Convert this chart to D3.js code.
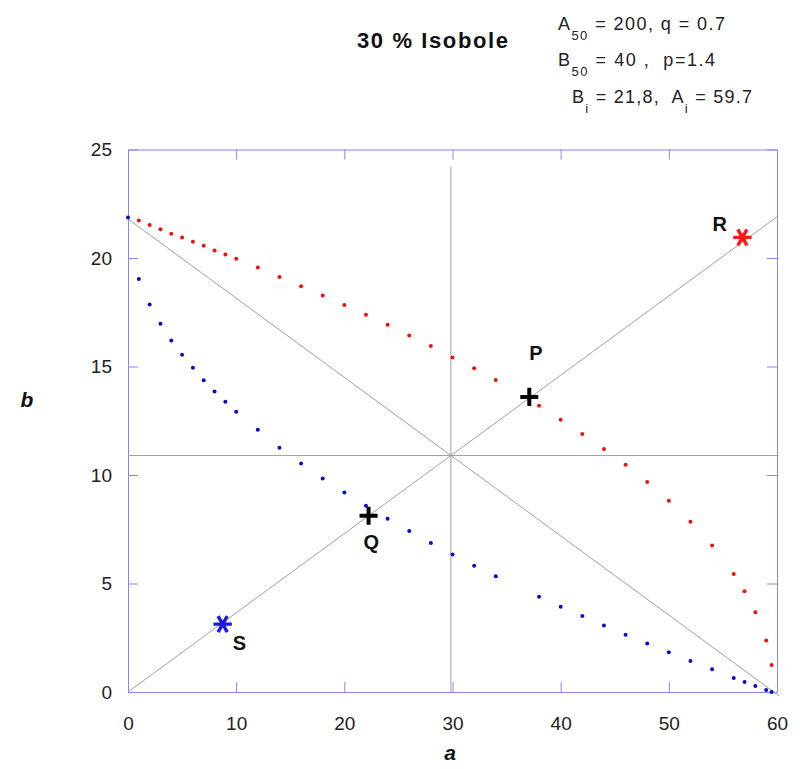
<!DOCTYPE html>
<html>
<head>
<meta charset="utf-8">
<script src="https://cdn.jsdelivr.net/npm/d3@7"></script>
<style>
  body { margin: 0; background: #fff; }
  text { font-family: Arial, "Liberation Sans", sans-serif; }
</style>
</head>
<body>
<script>

// isobole points (a, b)
var redA = [1, 2, 3, 4, 5, 6, 7, 8, 9, 10, 12, 14, 16, 18, 20, 22, 24, 26, 28, 30,
            32, 34, 38, 40, 42, 44, 46, 48, 50, 52, 54, 56, 57, 58, 59, 59.5];
var redB = [21.73, 21.52, 21.32, 21.12, 20.95, 20.75, 20.56, 20.35, 20.16, 19.96,
            19.56, 19.13, 18.70, 18.27, 17.83, 17.38, 16.92, 16.43, 15.94, 15.42,
            14.92, 14.38, 13.19, 12.55, 11.89, 11.20, 10.47, 9.68, 8.81, 7.84,
            6.75, 5.44, 4.64, 3.67, 2.37, 1.24];

var blueA = [0, 1, 2, 3, 4, 5, 6, 7, 8, 9, 10, 12, 14, 16, 18, 20, 22, 24, 26, 28, 30,
             32, 34, 38, 40, 42, 44, 46, 48, 50, 52, 54, 56, 57, 58, 59, 59.5];
var blueB = [21.87, 19.03, 17.86, 16.97, 16.20, 15.54, 14.94, 14.37, 13.85, 13.37, 12.91,
             12.08, 11.26, 10.53, 9.84, 9.19, 8.58, 7.98, 7.42, 6.87, 6.34,
             5.82, 5.33, 4.39, 3.93, 3.50, 3.06, 2.64, 2.23, 1.83, 1.43,
             1.05, 0.65, 0.46, 0.28, 0.09, 0];

// helper lines: [a1, b1, a2, b2]
var refLines = [
  [29.85, 0, 29.85, 24.2],     // a = Ai/2
  [0, 10.9, 60.15, 10.9],      // b = Bi/2
  [0, 21.8, 60.2, -0.18],      // additive line
  [0, 0, 60, 21.9]             // ray through origin
];

// marked points
var markNames = ["R", "P", "Q", "S"];
var markA = [56.8, 37.1, 22.24, 8.75];
var markB = [20.95, 13.6, 8.12, 3.13];

var xTicks = [0, 10, 20, 30, 40, 50, 60];
var yTicks = [0, 5, 10, 15, 20, 25];

var svgWidth = 800, svgHeight = 769;
var plotLeft = 128, plotRight = 777, plotTop = 149.5, plotBottom = 692;
var axisColor = "#8686ee";

var svg = d3.select("body").append("svg")
    .attr("width", svgWidth)
    .attr("height", svgHeight);

var xScale = d3.scaleLinear().domain([0, 60]).range([plotLeft, plotRight]);
var yScale = d3.scaleLinear().domain([0, 25]).range([plotBottom, plotTop]);

// axes, ticks pointing inward
var xAxis = d3.axisBottom(xScale).tickValues(xTicks).tickSizeInner(-10).tickSizeOuter(0).tickPadding(25);
var yAxis = d3.axisLeft(yScale).tickValues(yTicks).tickSizeInner(-10).tickSizeOuter(0).tickPadding(16);
var xTop = d3.axisTop(xScale).tickValues(xTicks).tickSizeInner(-10).tickSizeOuter(0).tickFormat("");
var yRight = d3.axisRight(yScale).tickValues(yTicks).tickSizeInner(-10).tickSizeOuter(0).tickFormat("");

function styleAxis(g) {
  g.select(".domain").attr("stroke", axisColor);
  g.selectAll(".tick line").attr("stroke", axisColor);
  g.selectAll(".tick text")
    .attr("fill", "#222")
    .style("font-size", "19px")
    .style("font-family", "Arial, 'Liberation Sans', sans-serif");
}

svg.append("g").attr("transform", "translate(0," + plotBottom + ")").call(xAxis).call(styleAxis);
svg.append("g").attr("transform", "translate(" + plotLeft + ",0)").call(yAxis).call(styleAxis);
svg.append("g").attr("transform", "translate(0," + plotTop + ")").call(xTop).call(styleAxis);
svg.append("g").attr("transform", "translate(" + plotRight + ",0)").call(yRight).call(styleAxis);

// grey helper lines
svg.selectAll("line.ref")
    .data(refLines)
    .enter()
    .append("line")
    .attr("class", "ref")
    .attr("x1", function(d){ return xScale(d[0]); })
    .attr("y1", function(d){ return yScale(d[1]); })
    .attr("x2", function(d){ return xScale(d[2]); })
    .attr("y2", function(d){ return yScale(d[3]); })
    .attr("stroke", "#a0a0a0")
    .attr("stroke-width", 1);

// dotted isoboles
svg.selectAll("circle.red")
    .data(redA)
    .enter()
    .append("circle")
    .attr("class", "red")
    .attr("cx", function(d){ return xScale(d); })
    .attr("cy", function(d, i){ return yScale(redB[i]); })
    .attr("r", 2)
    .attr("fill", "#ee1111");

svg.selectAll("circle.blue")
    .data(blueA)
    .enter()
    .append("circle")
    .attr("class", "blue")
    .attr("cx", function(d){ return xScale(d); })
    .attr("cy", function(d, i){ return yScale(blueB[i]); })
    .attr("r", 2)
    .attr("fill", "#0a0ad0");

// symbols for R, P, Q, S
var markSymbol = [d3.symbolAsterisk, d3.symbolPlus, d3.symbolPlus, d3.symbolAsterisk];
var markSize = [239, 108, 108, 239];
var markColor = ["#ff1a1a", "#000", "#000", "#1a1ae0"];
var markWidth = [3.4, 4, 4, 3.4];
var labelDx = [-30, 0, -5, 10];
var labelDy = [-6, -37, 33, 26];

svg.selectAll("path.mark")
    .data(markNames)
    .enter()
    .append("path")
    .attr("class", "mark")
    .attr("d", function(d, i){ return d3.symbol().type(markSymbol[i]).size(markSize[i])(); })
    .attr("transform", function(d, i){
      var rot = markSymbol[i] === d3.symbolAsterisk ? " rotate(90)" : "";
      return "translate(" + xScale(markA[i]) + "," + yScale(markB[i]) + ")" + rot;
    })
    .attr("fill", "none")
    .attr("stroke", function(d, i){ return markColor[i]; })
    .attr("stroke-width", function(d, i){ return markWidth[i]; });

svg.selectAll("text.mark")
    .data(markNames)
    .enter()
    .append("text")
    .attr("class", "mark")
    .attr("x", function(d, i){ return xScale(markA[i]) + labelDx[i]; })
    .attr("y", function(d, i){ return yScale(markB[i]) + labelDy[i]; })
    .attr("font-size", "20px")
    .attr("font-weight", "bold")
    .attr("fill", "#111")
    .text(function(d){ return d; });

// axis titles
svg.append("text")
    .attr("x", 450).attr("y", 760)
    .attr("text-anchor", "middle")
    .attr("font-size", "21px")
    .attr("font-weight", "bold")
    .attr("font-style", "italic")
    .attr("fill", "#111")
    .text("a");

svg.append("text")
    .attr("x", 27).attr("y", 407)
    .attr("text-anchor", "middle")
    .attr("font-size", "21px")
    .attr("font-weight", "bold")
    .attr("font-style", "italic")
    .attr("fill", "#111")
    .text("b");

// title
svg.append("text")
    .attr("x", 357).attr("y", 48)
    .attr("font-size", "22px")
    .attr("font-weight", "bold")
    .attr("fill", "#111")
    .attr("textLength", 151)
    .attr("lengthAdjust", "spacing")
    .text("30 % Isobole");

// parameter notes: [x, baseline, width, parts]; parts as [text, isSub]
var notes = [
  [558, 30, 167, [["A", 0], ["50", 1], [" = 200, q = 0.7", 0]]],
  [558, 66, 157, [["B", 0], ["50", 1], [" = 40 ,  p=1.4", 0]]],
  [572, 103, 180, [["B", 0], ["i", 1], [" = 21,8,  A", 0], ["i", 1], [" = 59.7", 0]]]
];

notes.forEach(function(n){
  var t = svg.append("text")
      .attr("x", n[0]).attr("y", n[1])
      .attr("font-size", "18px")
      .attr("fill", "#222")
      .attr("textLength", n[2])
      .attr("lengthAdjust", "spacing")
      .style("white-space", "pre");
  var prevSub = 0;
  n[3].forEach(function(p){
    t.append("tspan")
      .attr("dy", p[1] === prevSub ? 0 : (p[1] ? 10 : -10))
      .attr("font-size", p[1] ? "13px" : "18px")
      .text(p[0]);
    prevSub = p[1];
  });
});

</script>
</body>
</html>
